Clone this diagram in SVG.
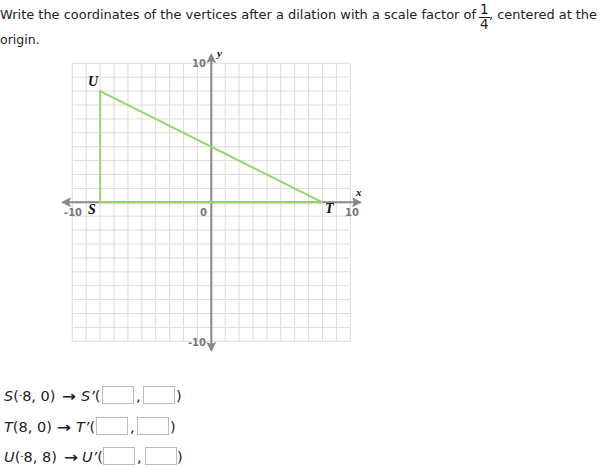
<svg xmlns="http://www.w3.org/2000/svg" width="600" height="466" viewBox="0 0 600 466">
<style>
.t{font-family:"DejaVu Sans","Liberation Sans",sans-serif;font-size:12.5px;fill:#222}
.fr{font-family:"DejaVu Sans","Liberation Sans",sans-serif;font-size:13.5px;fill:#222}
.g{stroke:#dcdcdc;stroke-width:1;fill:none}
.ax{stroke:#888;stroke-width:2;fill:none}
.tick{font-family:"DejaVu Sans",sans-serif;font-size:10px;font-weight:bold;fill:#777}
.vl{font-family:"Liberation Serif",serif;font-size:14px;font-weight:bold;font-style:italic;fill:#111}
.al{font-family:"Liberation Serif",serif;font-size:11px;font-weight:bold;font-style:italic;fill:#111}
.tri{stroke:#95d66e;stroke-width:2;fill:none}
.box{fill:#fff;stroke:#bbb;stroke-width:1}
.eq{font-family:"DejaVu Sans","Liberation Sans",sans-serif;font-size:14.5px;fill:#222}
.arr{font-family:"DejaVu Sans",sans-serif;font-size:14px;font-weight:bold;fill:#222}
.sm{font-size:9px}
</style>
<defs>
<marker id="ah" viewBox="0 0 10 10" refX="8" refY="5" markerWidth="5" markerHeight="5" orient="auto-start-reverse" markerUnits="strokeWidth">
<path d="M0,0 L10,5 L0,10 L2,5 Z" fill="#888"/>
</marker>
</defs>
<g id="prompt">
<text class="t" x="0" y="19" textLength="476" lengthAdjust="spacingAndGlyphs">Write the coordinates of the vertices after a dilation with a scale factor of</text>
<text class="fr" x="480" y="14">1</text>
<line x1="479" y1="17.5" x2="490" y2="17.5" stroke="#222" stroke-width="1"/>
<text class="fr" x="480" y="29">4</text>
<text class="t" x="489" y="19" textLength="108" lengthAdjust="spacingAndGlyphs">, centered at the</text>
<text class="t" x="0" y="44">origin.</text>
</g>
<g id="grid">
<path class="g" d="M72.3,63.3V341.3M86.2,63.3V341.3M100.1,63.3V341.3M114,63.3V341.3M127.9,63.3V341.3M141.8,63.3V341.3M155.7,63.3V341.3M169.6,63.3V341.3M183.5,63.3V341.3M197.4,63.3V341.3M225.2,63.3V341.3M239.1,63.3V341.3M253,63.3V341.3M266.9,63.3V341.3M280.8,63.3V341.3M294.7,63.3V341.3M308.6,63.3V341.3M322.5,63.3V341.3M336.4,63.3V341.3M350.3,63.3V341.3"/>
<path class="g" d="M72.3,63.3H350.3M72.3,77.2H350.3M72.3,91.1H350.3M72.3,105H350.3M72.3,118.9H350.3M72.3,132.8H350.3M72.3,146.7H350.3M72.3,160.6H350.3M72.3,174.5H350.3M72.3,188.4H350.3M72.3,216.2H350.3M72.3,230.1H350.3M72.3,244H350.3M72.3,257.9H350.3M72.3,271.8H350.3M72.3,285.7H350.3M72.3,299.6H350.3M72.3,313.5H350.3M72.3,327.4H350.3M72.3,341.3H350.3"/>
</g>
<g id="axes">
<line class="ax" x1="63" y1="202.3" x2="360" y2="202.3" marker-start="url(#ah)" marker-end="url(#ah)"/>
<line class="ax" x1="211.3" y1="55" x2="211.3" y2="350" marker-start="url(#ah)" marker-end="url(#ah)"/>
<text class="tick" x="206" y="67" text-anchor="end">10</text>
<text class="tick" x="206" y="346" text-anchor="end">-10</text>
<text class="tick" x="64" y="216">-10</text>
<text class="tick" x="345" y="216">10</text>
<text class="tick" x="200" y="216" fill="#111">0</text>
<text class="al" x="356" y="196">x</text>
<text class="al" x="217" y="57">y</text>
</g>
<g id="triangle">
<path class="tri" d="M100.1,91.1 L100.1,202.3 L322.5,202.3 Z"/>
</g>
<g id="S"><text class="vl" x="88" y="214">S</text></g>
<g id="T"><text class="vl" x="325" y="213">T</text></g>
<g id="U"><text class="vl" x="88" y="86">U</text></g>
<g id="eq1">
<text class="eq" x="4" y="401"><tspan font-style="italic">S</tspan>(<tspan class="sm" dy="-3">-</tspan><tspan dy="3">8, 0)</tspan></text>
<text class="arr" x="62" y="401" textLength="14" lengthAdjust="spacingAndGlyphs">→</text>
<text class="eq" x="81" y="401"><tspan font-style="italic">S’</tspan>(</text>
<rect class="box" x="102.5" y="386.5" width="31" height="17"/>
<text class="eq" x="136" y="401">,</text>
<rect class="box" x="143.5" y="386.5" width="31" height="17"/>
<text class="eq" x="176" y="401">)</text>
</g>
<g id="eq2">
<text class="eq" x="4" y="432"><tspan font-style="italic">T</tspan>(8, 0)</text>
<text class="arr" x="57" y="432" textLength="14" lengthAdjust="spacingAndGlyphs">→</text>
<text class="eq" x="76" y="432"><tspan font-style="italic">T’</tspan>(</text>
<rect class="box" x="96.5" y="417.5" width="31" height="17"/>
<text class="eq" x="130" y="432">,</text>
<rect class="box" x="137.5" y="417.5" width="31" height="17"/>
<text class="eq" x="170" y="432">)</text>
</g>
<g id="eq3">
<text class="eq" x="4" y="462"><tspan font-style="italic">U</tspan>(<tspan class="sm" dy="-3">-</tspan><tspan dy="3">8, 8)</tspan></text>
<text class="arr" x="64" y="462" textLength="14" lengthAdjust="spacingAndGlyphs">→</text>
<text class="eq" x="82" y="462"><tspan font-style="italic">U’</tspan>(</text>
<rect class="box" x="103.5" y="447.5" width="31" height="17"/>
<text class="eq" x="137" y="462">,</text>
<rect class="box" x="145.5" y="447.5" width="31" height="17"/>
<text class="eq" x="177" y="462">)</text>
</g>
</svg>
